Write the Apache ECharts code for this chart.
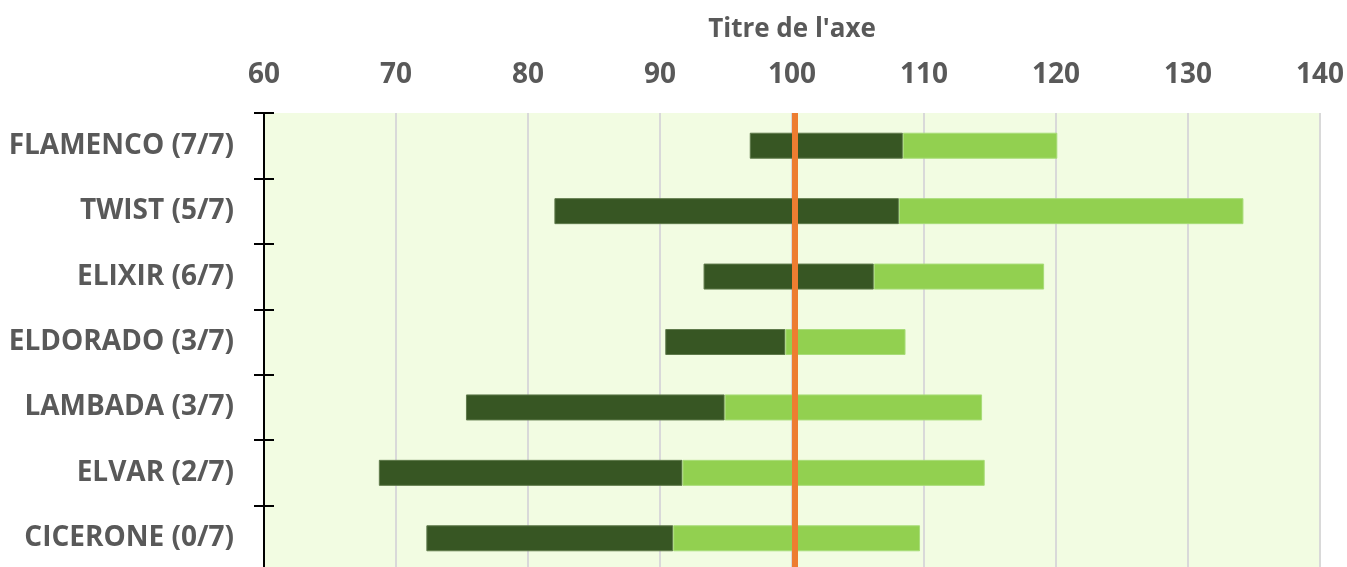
<!DOCTYPE html>
<html>
<head>
<meta charset="utf-8">
<script src="https://cdn.jsdelivr.net/npm/echarts@6/dist/echarts.min.js"></script>
<style>html,body{margin:0;padding:0;background:#fff;}#c{width:1347px;height:567px;}</style>
</head>
<body>
<div id="c"></div>
<script>
const categories = ['FLAMENCO (7/7)','TWIST (5/7)','ELIXIR (6/7)','ELDORADO (3/7)','LAMBADA (3/7)','ELVAR (2/7)','CICERONE (0/7)'];
const lowValues  = [96.8, 82.0, 93.3, 90.4, 75.3, 68.7, 72.3];
const midValues  = [108.4, 108.1, 106.2, 99.5, 94.9, 91.7, 91.0];
const highValues = [120.1, 134.2, 119.1, 108.6, 114.4, 114.6, 109.7];
const xTicks = [60, 70, 80, 90, 100, 110, 120, 130, 140];
const refLine = 100.2;
const axisTitle = "Titre de l'axe";

const FONT = 'Open Sans';
const TXT = '#595959';
const chart = echarts.init(document.getElementById('c'), null, {renderer: 'canvas'});
const base = lowValues;
const darkPart = midValues.map((m, i) => +(m - lowValues[i]).toFixed(2));
const lightPart = highValues.map((h, i) => +(h - midValues[i]).toFixed(2));

chart.setOption({
  animation: false,
  backgroundColor: '#ffffff',
  grid: {left: 264, width: 1056, top: 113, height: 458, containLabel: false,
         outerBoundsMode: 'none',
         show: true, backgroundColor: '#F2FCE2', borderWidth: 0},
  xAxis: {
    type: 'value', position: 'top',
    min: xTicks[0], max: xTicks[xTicks.length - 1], interval: 10,
    name: axisTitle, nameLocation: 'middle', nameGap: 70,
    nameTextStyle: {fontFamily: FONT, fontWeight: 'bold', fontSize: 26, color: TXT},
    axisLine: {show: false}, axisTick: {show: false},
    axisLabel: {fontFamily: FONT, fontWeight: 'bold', fontSize: 28, color: TXT, margin: 24},
    splitLine: {show: true, lineStyle: {color: '#D9D9D9', width: 2}}
  },
  yAxis: [{
    type: 'category', inverse: true, data: categories,
    axisLine: {show: true, lineStyle: {color: '#000', width: 2}},
    axisTick: {show: true, length: 10, lineStyle: {color: '#000', width: 2}},
    axisLabel: {fontFamily: FONT, fontWeight: 'bold', fontSize: 28, color: TXT, margin: 30},
    splitLine: {show: false}
  }, {
    type: 'category', inverse: true, data: categories, position: 'left',
    axisLine: {show: false},
    axisTick: {show: true, inside: true, length: 10, lineStyle: {color: '#000', width: 2}},
    axisLabel: {show: false}, splitLine: {show: false}
  }],
  series: [{
    type: 'bar', stack: 's', yAxisIndex: 0, data: base, barWidth: 26,
    itemStyle: {color: 'rgba(0,0,0,0)'}, silent: true
  }, {
    type: 'bar', stack: 's', yAxisIndex: 0, data: darkPart, barWidth: 26,
    itemStyle: {color: '#375623', borderColor: '#5F7A4B', borderWidth: 1}
  }, {
    type: 'bar', stack: 's', yAxisIndex: 0, data: lightPart, barWidth: 26,
    itemStyle: {color: '#92D050', borderColor: '#A8DC78', borderWidth: 1},
    markLine: {
      symbol: 'none', silent: true, label: {show: false},
      lineStyle: {color: '#ED7D31', width: 6, type: 'solid'},
      data: [{xAxis: refLine}]
    }
  }]
});
</script>
</body>
</html>
